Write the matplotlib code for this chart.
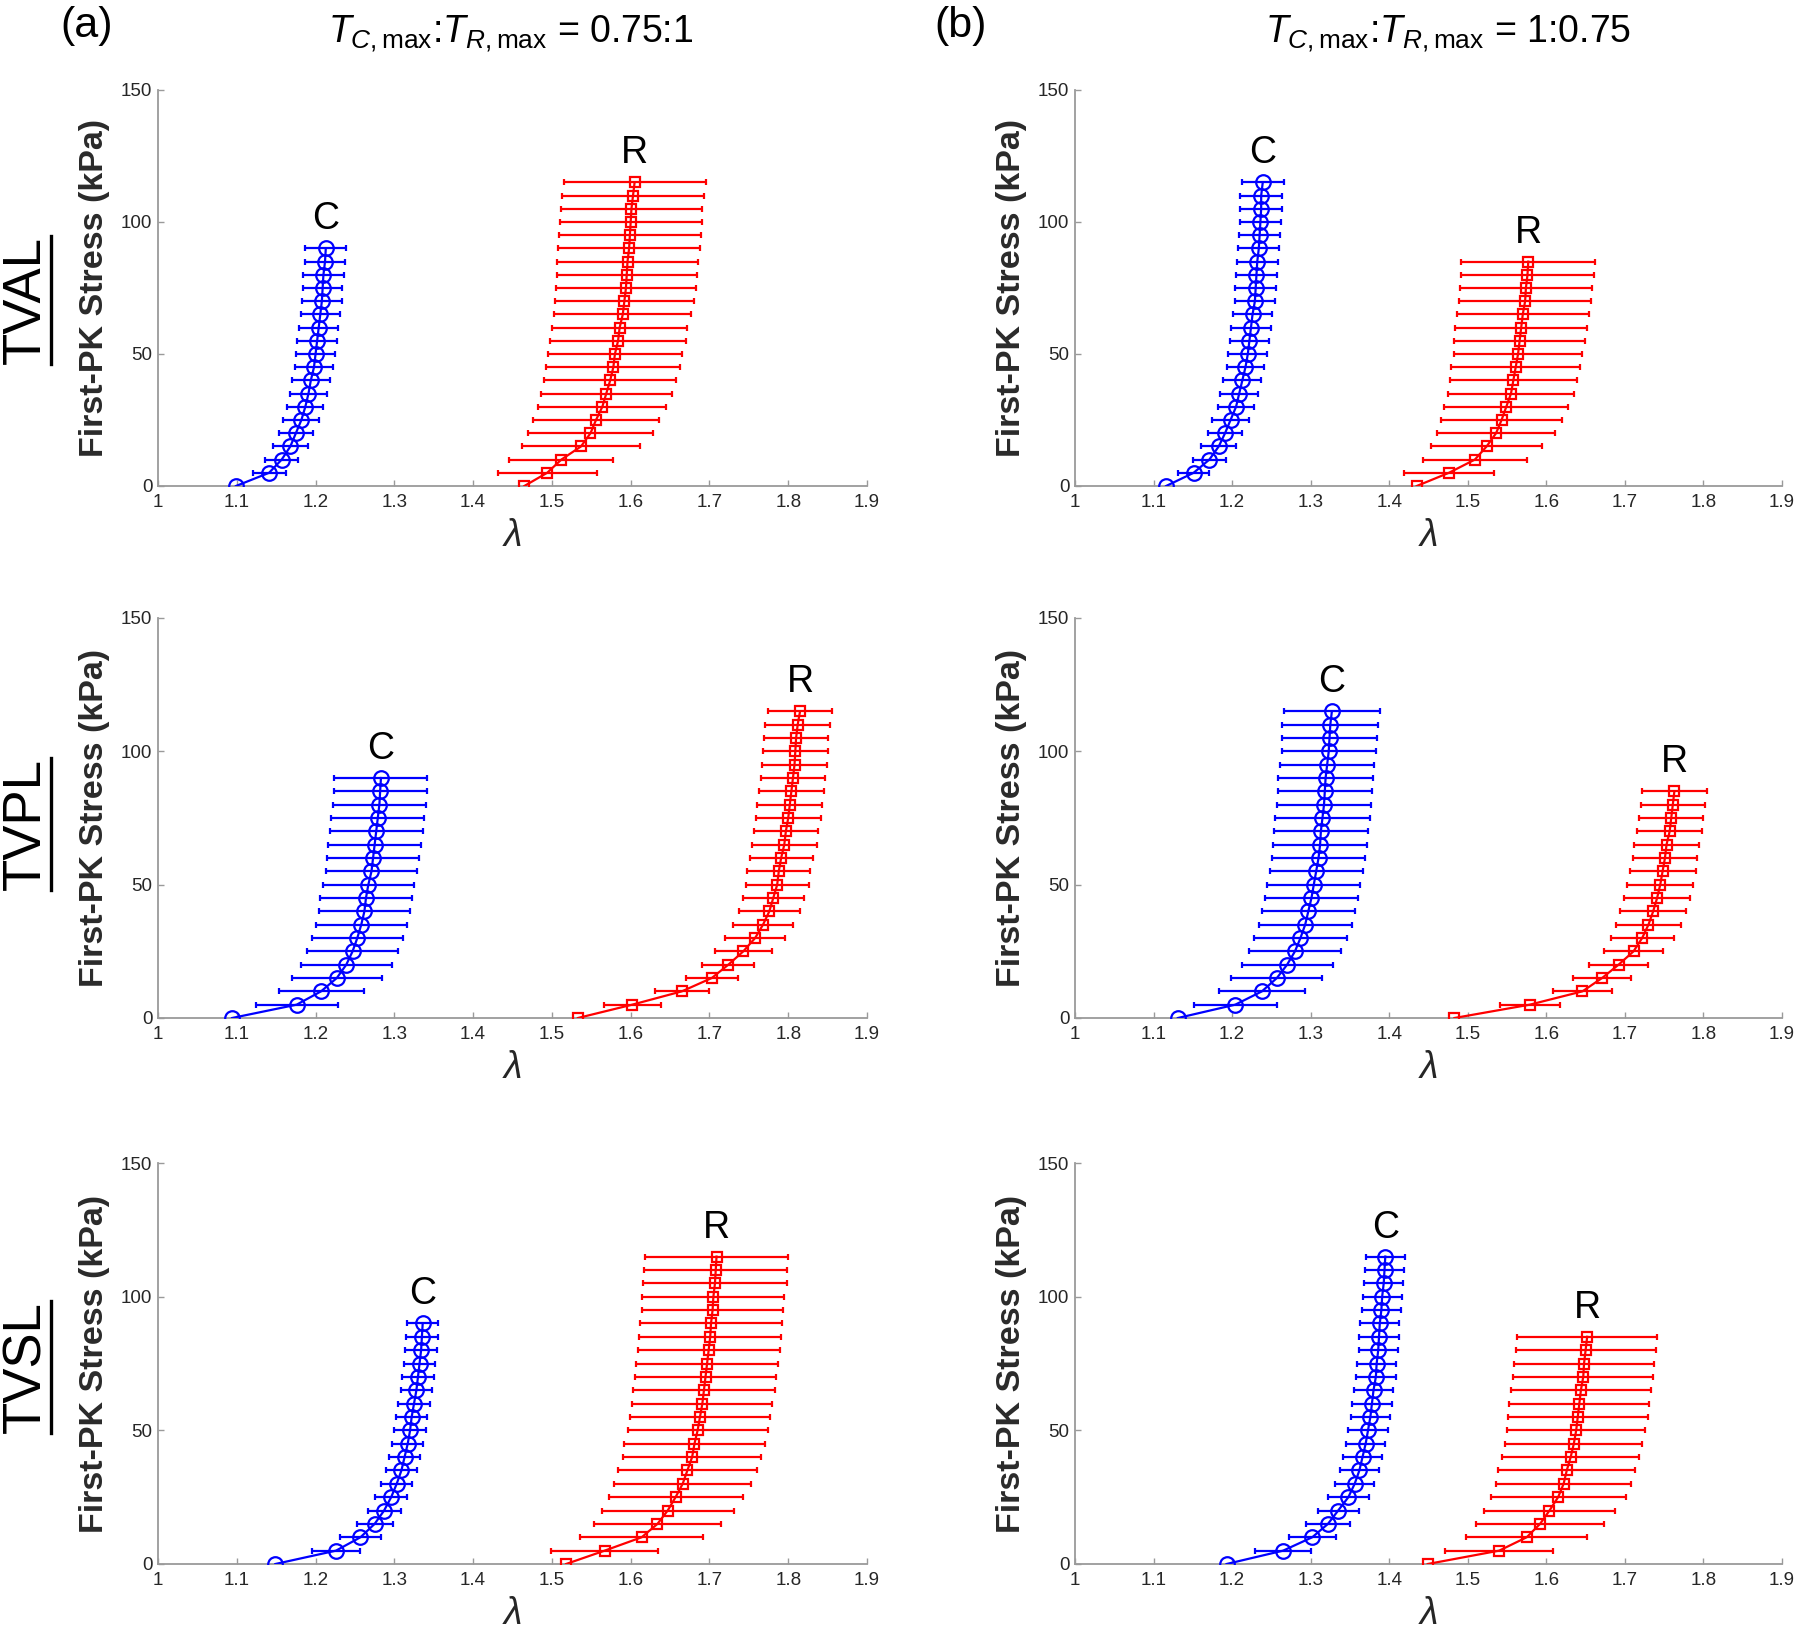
"""Stress vs stretch (C and R directions) for TVAL / TVPL / TVSL at two T_max ratios."""
import matplotlib

matplotlib.use("Agg")

import matplotlib.pyplot as plt  # noqa: E402
from matplotlib.lines import Line2D  # noqa: E402

# applied first-PK stress levels (kPa)
STRESS_90 = [0, 5, 10, 15, 20, 25, 30, 35, 40, 45, 50, 55, 60, 65, 70, 75, 80, 85, 90]
STRESS_115 = [0, 5, 10, 15, 20, 25, 30, 35, 40, 45, 50, 55, 60, 65, 70, 75, 80, 85, 90,
              95, 100, 105, 110, 115]
STRESS_85 = [0, 5, 10, 15, 20, 25, 30, 35, 40, 45, 50, 55, 60, 65, 70, 75, 80, 85]

# (a) T_C,max : T_R,max = 0.75 : 1
TVAL_A_C = [1.099, 1.141, 1.157, 1.168, 1.175, 1.182, 1.187, 1.191, 1.194, 1.198, 1.200,
            1.202, 1.204, 1.206, 1.208, 1.209, 1.210, 1.212, 1.213]
TVAL_A_C_ERR = [0, 0.021, 0.021, 0.022, 0.022, 0.023, 0.023, 0.024, 0.024, 0.024, 0.025,
                0.025, 0.025, 0.025, 0.025, 0.025, 0.026, 0.026, 0.026]
TVAL_A_R = [1.465, 1.494, 1.512, 1.537, 1.549, 1.556, 1.564, 1.569, 1.574, 1.578, 1.580,
            1.584, 1.586, 1.590, 1.592, 1.594, 1.595, 1.596, 1.598, 1.599, 1.600, 1.601,
            1.603, 1.605]
TVAL_A_R_ERR = [0, 0.063, 0.066, 0.075, 0.079, 0.080, 0.081, 0.083, 0.084, 0.085, 0.085,
                0.086, 0.086, 0.087, 0.088, 0.089, 0.089, 0.090, 0.090, 0.090, 0.090, 0.090,
                0.090, 0.090]

TVPL_A_C = [1.094, 1.176, 1.207, 1.227, 1.239, 1.247, 1.253, 1.258, 1.262, 1.264, 1.267,
            1.271, 1.273, 1.275, 1.277, 1.279, 1.281, 1.282, 1.283]
TVPL_A_C_ERR = [0, 0.052, 0.054, 0.057, 0.058, 0.058, 0.058, 0.058, 0.058, 0.058, 0.058,
                0.058, 0.058, 0.059, 0.059, 0.059, 0.059, 0.059, 0.059]
TVPL_A_R = [1.533, 1.602, 1.665, 1.703, 1.724, 1.743, 1.758, 1.768, 1.776, 1.781, 1.786,
            1.788, 1.791, 1.795, 1.797, 1.800, 1.802, 1.804, 1.806, 1.808, 1.809, 1.810,
            1.812, 1.815]
TVPL_A_R_ERR = [0, 0.036, 0.034, 0.033, 0.033, 0.036, 0.038, 0.038, 0.039, 0.039, 0.040,
                0.040, 0.040, 0.041, 0.041, 0.041, 0.041, 0.041, 0.041, 0.041, 0.041, 0.041,
                0.041, 0.041]

TVSL_A_C = [1.149, 1.226, 1.257, 1.275, 1.287, 1.296, 1.303, 1.309, 1.313, 1.317, 1.320,
            1.322, 1.325, 1.328, 1.330, 1.332, 1.334, 1.335, 1.336]
TVSL_A_C_ERR = [0, 0.031, 0.026, 0.023, 0.021, 0.020, 0.020, 0.020, 0.020, 0.020, 0.020,
                0.020, 0.020, 0.020, 0.020, 0.020, 0.020, 0.020, 0.020]
TVSL_A_R = [1.518, 1.567, 1.614, 1.634, 1.647, 1.657, 1.666, 1.672, 1.678, 1.681, 1.685,
            1.688, 1.691, 1.693, 1.695, 1.697, 1.699, 1.701, 1.702, 1.704, 1.705, 1.707,
            1.708, 1.709]
TVSL_A_R_ERR = [0, 0.068, 0.078, 0.081, 0.084, 0.085, 0.087, 0.088, 0.088, 0.089, 0.089,
                0.089, 0.089, 0.090, 0.090, 0.090, 0.090, 0.090, 0.090, 0.090, 0.090, 0.091,
                0.091, 0.091]

# (b) T_C,max : T_R,max = 1 : 0.75
TVAL_B_C = [1.116, 1.151, 1.171, 1.183, 1.191, 1.198, 1.205, 1.209, 1.213, 1.217, 1.220,
            1.222, 1.224, 1.226, 1.229, 1.230, 1.231, 1.232, 1.234, 1.235, 1.236, 1.237,
            1.237, 1.239]
TVAL_B_C_ERR = [0, 0.020, 0.021, 0.022, 0.022, 0.023, 0.023, 0.024, 0.024, 0.024, 0.025,
                0.025, 0.025, 0.025, 0.025, 0.026, 0.026, 0.026, 0.026, 0.026, 0.026, 0.027,
                0.027, 0.027]
TVAL_B_R = [1.435, 1.476, 1.509, 1.524, 1.536, 1.543, 1.549, 1.555, 1.558, 1.561, 1.564,
            1.566, 1.568, 1.570, 1.573, 1.574, 1.576, 1.577]
TVAL_B_R_ERR = [0, 0.057, 0.066, 0.071, 0.075, 0.077, 0.079, 0.080, 0.081, 0.082, 0.082,
                0.083, 0.084, 0.084, 0.084, 0.084, 0.085, 0.085]

TVPL_B_C = [1.131, 1.204, 1.238, 1.257, 1.270, 1.280, 1.287, 1.293, 1.297, 1.301, 1.304,
            1.307, 1.310, 1.312, 1.313, 1.315, 1.317, 1.318, 1.319, 1.321, 1.323, 1.324,
            1.325, 1.327]
TVPL_B_C_ERR = [0, 0.053, 0.055, 0.058, 0.058, 0.059, 0.059, 0.059, 0.059, 0.059, 0.059,
                0.059, 0.059, 0.060, 0.060, 0.060, 0.060, 0.060, 0.060, 0.060, 0.060, 0.061,
                0.061, 0.061]
TVPL_B_R = [1.483, 1.579, 1.646, 1.671, 1.692, 1.711, 1.722, 1.730, 1.736, 1.741, 1.745,
            1.748, 1.751, 1.753, 1.757, 1.759, 1.761, 1.763]
TVPL_B_R_ERR = [0, 0.038, 0.037, 0.037, 0.038, 0.038, 0.040, 0.041, 0.042, 0.042, 0.042,
                0.042, 0.041, 0.041, 0.041, 0.041, 0.041, 0.041]

TVSL_B_C = [1.193, 1.265, 1.302, 1.322, 1.335, 1.348, 1.356, 1.362, 1.366, 1.370, 1.373,
            1.376, 1.378, 1.380, 1.383, 1.384, 1.386, 1.387, 1.388, 1.390, 1.391, 1.393,
            1.394, 1.395]
TVSL_B_C_ERR = [0, 0.036, 0.030, 0.028, 0.026, 0.026, 0.025, 0.025, 0.025, 0.025, 0.025,
                0.025, 0.025, 0.025, 0.025, 0.025, 0.025, 0.025, 0.025, 0.025, 0.025, 0.025,
                0.025, 0.025]
TVSL_B_R = [1.449, 1.540, 1.575, 1.592, 1.604, 1.615, 1.622, 1.626, 1.631, 1.635, 1.638,
            1.640, 1.642, 1.644, 1.647, 1.648, 1.650, 1.652]
TVSL_B_R_ERR = [0, 0.069, 0.077, 0.081, 0.083, 0.086, 0.086, 0.087, 0.087, 0.087, 0.088,
                0.089, 0.089, 0.089, 0.089, 0.089, 0.089, 0.089]

ROW_NAMES = ["TVAL", "TVPL", "TVSL"]
COL_TAGS = ["(a)", "(b)"]
COL_TITLES = [r"$T_{C,\mathrm{max}}$:$T_{R,\mathrm{max}}$ = 0.75:1",
              r"$T_{C,\mathrm{max}}$:$T_{R,\mathrm{max}}$ = 1:0.75"]
X_TICKS = [1, 1.1, 1.2, 1.3, 1.4, 1.5, 1.6, 1.7, 1.8, 1.9]
X_TICK_LABELS = ["1", "1.1", "1.2", "1.3", "1.4", "1.5", "1.6", "1.7", "1.8", "1.9"]
Y_TICKS = [0, 50, 100, 150]

# panels[row][col] = (C lam, C err, C stress, R lam, R err, R stress)
PANELS = [
    [(TVAL_A_C, TVAL_A_C_ERR, STRESS_90, TVAL_A_R, TVAL_A_R_ERR, STRESS_115),
     (TVAL_B_C, TVAL_B_C_ERR, STRESS_115, TVAL_B_R, TVAL_B_R_ERR, STRESS_85)],
    [(TVPL_A_C, TVPL_A_C_ERR, STRESS_90, TVPL_A_R, TVPL_A_R_ERR, STRESS_115),
     (TVPL_B_C, TVPL_B_C_ERR, STRESS_115, TVPL_B_R, TVPL_B_R_ERR, STRESS_85)],
    [(TVSL_A_C, TVSL_A_C_ERR, STRESS_90, TVSL_A_R, TVSL_A_R_ERR, STRESS_115),
     (TVSL_B_C, TVSL_B_C_ERR, STRESS_115, TVSL_B_R, TVSL_B_R_ERR, STRESS_85)],
]

plt.rcParams["font.family"] = ["Liberation Sans", "DejaVu Sans"]
plt.rcParams["mathtext.fontset"] = "custom"
plt.rcParams["mathtext.rm"] = "Liberation Sans"
plt.rcParams["mathtext.it"] = "Liberation Sans:italic"
plt.rcParams["mathtext.bf"] = "Liberation Sans:bold"

AX_GRAY = "#9a9a9a"
TXT = "#262626"

W, H = 1800, 1632
COL_X = [158, 1075]          # left edge of axes, px
COL_W = [709, 707]
ROW_TOP = [90, 618, 1163]    # top edge of axes, px
ROW_BOT = [486, 1018, 1564]


def curve(ax, lam, err, stress, color, marker, ms, label):
    ax.plot(lam, stress, "-", color=color, marker=marker, ms=ms, mfc="none",
            mec=color, mew=1.6, lw=1.6, zorder=3)
    idx = [i for i, e in enumerate(err) if e > 0]
    ax.errorbar([lam[i] for i in idx], [stress[i] for i in idx],
                xerr=[err[i] for i in idx], fmt="none", ecolor=color,
                elinewidth=1.6, capsize=2.4, capthick=1.6, zorder=2)
    ax.annotate(label, (lam[-1], stress[-1]), xytext=(0, 19), textcoords="offset pixels",
                ha="center", va="baseline", fontsize=27, color="black")


def main() -> None:
    fig = plt.figure(figsize=(W / 100, H / 100), dpi=100)

    for r in range(3):
        for c in range(2):
            x0 = COL_X[c] / W
            y0 = 1 - ROW_BOT[r] / H
            ax = fig.add_axes([x0, y0, COL_W[c] / W, (ROW_BOT[r] - ROW_TOP[r]) / H])
            c_lam, c_err, c_s, r_lam, r_err, r_s = PANELS[r][c]
            curve(ax, c_lam, c_err, c_s, "#0000ff", "o", 10.5, "C")
            curve(ax, r_lam, r_err, r_s, "#ff0000", "s", 7.5, "R")

            ax.set_xlim(1, 1.9)
            ax.set_ylim(0, 150)
            ax.set_xticks(X_TICKS)
            ax.set_xticklabels(X_TICK_LABELS)
            ax.set_yticks(Y_TICKS)
            for side in ("top", "right"):
                ax.spines[side].set_visible(False)
            for side in ("left", "bottom"):
                ax.spines[side].set_color(AX_GRAY)
                ax.spines[side].set_linewidth(1.3)
            ax.tick_params(direction="in", length=4.5, width=1.0, color=AX_GRAY,
                           labelsize=13.5, labelcolor=TXT)
            ax.tick_params(axis="x", pad=6)
            ax.tick_params(axis="y", pad=4)
            ax.set_ylabel("First-PK Stress (kPa)", fontsize=24.5, fontweight="bold",
                          color="#2a2a2a", labelpad=8)
            ax.set_xlabel(r"$\lambda$", fontsize=27, color=TXT, labelpad=5)
            ax.patch.set_alpha(0)

    # column tags and titles
    for c, (tag, title) in enumerate(zip(COL_TAGS, COL_TITLES)):
        tag_x = [87, 961][c]
        title_x = [511, 1448][c]
        fig.text(tag_x / W, 1 - 26 / H, tag, ha="center", va="center", fontsize=31, color="black")
        fig.text(title_x / W, 1 - 42 / H, title, ha="center", va="baseline", fontsize=27,
                 color="black")

    # row names, rotated and underlined
    row_y = [300, 824, 1367]
    texts = []
    for name, yc in zip(ROW_NAMES, row_y):
        t = fig.text(26 / W, 1 - yc / H, name, rotation=90, ha="center", va="center",
                     fontsize=38, color="black")
        texts.append(t)
    fig.canvas.draw()
    renderer = fig.canvas.get_renderer()
    inv = fig.transFigure.inverted()
    for t in texts:
        bb = t.get_window_extent(renderer).transformed(inv)
        xline = bb.x1
        fig.add_artist(Line2D([xline, xline], [bb.y0, bb.y1], transform=fig.transFigure,
                              color="black", lw=2.4))

    fig.savefig("out.png", dpi=100)
    plt.close(fig)


if __name__ == "__main__":
    main()
